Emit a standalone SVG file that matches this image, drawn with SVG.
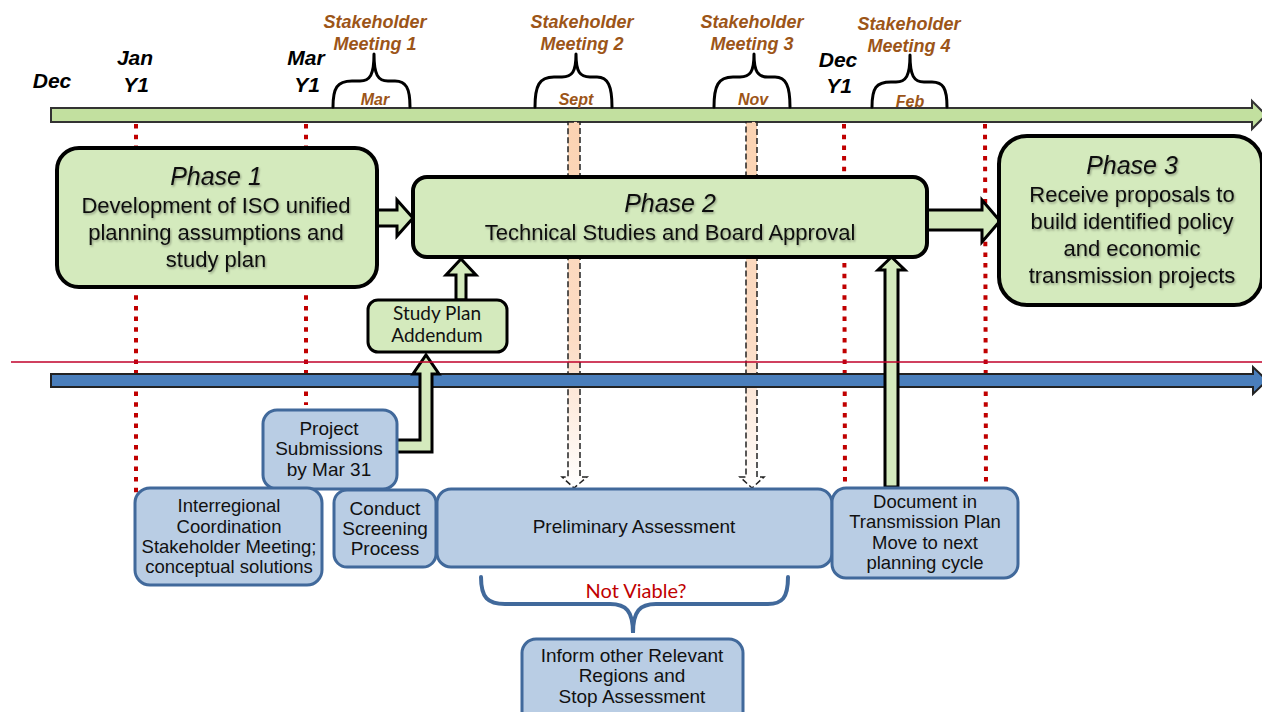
<svg xmlns="http://www.w3.org/2000/svg" width="1262" height="712" viewBox="0 0 1262 712">
<style>
.date{font-family:"Liberation Sans",Arial,sans-serif;font-weight:bold;font-style:italic;font-size:21px;fill:#000;text-anchor:middle}
.sh{font-family:"Liberation Sans",Arial,sans-serif;font-weight:bold;font-style:italic;font-size:18px;fill:#9c5518;text-anchor:middle}
.mon{font-family:"Liberation Sans",Arial,sans-serif;font-weight:bold;font-style:italic;font-size:16px;fill:#9c5518;text-anchor:middle}
.brace{fill:none;stroke:#000;stroke-width:3;stroke-linecap:round;stroke-linejoin:round}
.dot{fill:none;stroke:#c00000;stroke-width:4;stroke-dasharray:4.5 6.2}
.phase{fill:#d4eabd;stroke:#000;stroke-width:4}
.ptitle{font-family:"Liberation Sans",Arial,sans-serif;font-style:italic;font-size:25px;fill:#111;text-anchor:middle;filter:url(#sh)}
.ptext{font-family:"Liberation Sans",Arial,sans-serif;font-size:22px;fill:#111;text-anchor:middle;filter:url(#sh)}
.garrow{fill:#d4eabd;stroke:#000;stroke-width:3;stroke-linejoin:miter}
.blue{fill:#b9cde4;stroke:#41699b;stroke-width:3}
.btext{font-family:"Liberation Sans",Arial,sans-serif;font-size:19px;fill:#111;text-anchor:middle}
.btext2{font-family:"Liberation Sans",Arial,sans-serif;font-size:18.5px;fill:#111;text-anchor:middle}
.cal{font-family:Lato,"Liberation Sans",sans-serif;font-size:19px;fill:#111;text-anchor:middle}
.dash{fill:url(#peach);stroke:#222;stroke-width:1.5;stroke-dasharray:6 3}
</style>
<defs>
<linearGradient id="peach" gradientUnits="userSpaceOnUse" x1="0" y1="122" x2="0" y2="488">
<stop offset="0" stop-color="#fbd3b2"/>
<stop offset="0.6" stop-color="#fcdcc5"/>
<stop offset="1" stop-color="#ffffff"/>
</linearGradient>
<filter id="sh" x="-10%" y="-30%" width="120%" height="160%">
<feDropShadow dx="1" dy="1.5" stdDeviation="0.8" flood-color="#000" flood-opacity="0.35"/>
</filter>
</defs>
<rect width="1262" height="712" fill="#fff"/>

<!-- timeline labels -->
<g id="dates">
<text class="date" x="52" y="88">Dec</text>
<text class="date" x="135" y="65">Jan</text>
<text class="date" x="136" y="92">Y1</text>
<text class="date" x="306" y="65">Mar</text>
<text class="date" x="307" y="92">Y1</text>
<text class="date" x="838" y="67">Dec</text>
<text class="date" x="839" y="93">Y1</text>
</g>

<!-- top timeline -->
<g id="timeline-top">
<polygon points="51,108 1252,108 1252,101 1266,115 1252,129 1252,122 51,122" fill="#c2e09f" stroke="#333" stroke-width="2"/>
</g>

<g id="meetings">
<text class="sh" x="375" y="28">Stakeholder</text>
<text class="sh" x="375" y="50">Meeting 1</text>
<path class="brace" d="M333,107 C333,88 337,81 352,81 L360,81 C370,81 374,75 374,54 C374,75 378,81 388,81 L395,81 C406,81 410,88 410,107"/>
<text class="mon" x="375" y="105">Mar</text>

<text class="sh" x="582" y="28">Stakeholder</text>
<text class="sh" x="582" y="50">Meeting 2</text>
<path class="brace" d="M535,107 C535,86 539,77 554,77 L562,77 C572,77 576,72 576,54 C576,72 580,77 590,77 L597,77 C608,77 612,86 612,107"/>
<text class="mon" x="576" y="105">Sept</text>

<text class="sh" x="752" y="28">Stakeholder</text>
<text class="sh" x="752" y="50">Meeting 3</text>
<path class="brace" d="M714,107 C714,86 718,77 733,77 L740,77 C750,77 754,72 754,54 C754,72 758,77 768,77 L775,77 C786,77 790,86 790,107"/>
<text class="mon" x="753" y="105">Nov</text>

<text class="sh" x="909" y="30">Stakeholder</text>
<text class="sh" x="909" y="52">Meeting 4</text>
<path class="brace" d="M872,107 C872,88 876,82 891,82 L896,82 C906,82 910,76 910,55 C910,76 914,82 924,82 L932,82 C943,82 947,88 947,107"/>
<text class="mon" x="910" y="107">Feb</text>
</g>

<!-- dotted month markers -->
<g id="markers">
<line class="dot" x1="136" y1="124" x2="136" y2="505"/>
<line class="dot" x1="306" y1="124" x2="306" y2="405"/>
<line class="dot" x1="844" y1="124" x2="845" y2="488"/>
<line class="dot" x1="985" y1="124" x2="986" y2="488"/>
</g>

<g id="connectors">
<polygon class="dash" points="568,122 580,122 580,477 587,477 574,488 562,477 568,477"/>
<polygon class="dash" points="746,122 757,122 757,477 764,477 752,488 740,477 746,477"/>
<polygon class="garrow" points="377,210 397,210 397,200 413,218 397,236 397,226 377,226"/>
<polygon class="garrow" stroke-width="4" points="927,210 982,210 982,200 1000,221 982,242 982,230 927,230"/>
<polygon class="garrow" points="456,300 456,275 446,275 461,259 476,275 466,275 466,300"/>
</g>

<g id="phase1">
<rect class="phase" x="57" y="148" width="320" height="139" rx="22"/>
<text class="ptitle" x="216" y="185">Phase 1</text>
<text class="ptext" x="216" y="213">Development of ISO unified</text>
<text class="ptext" x="216" y="240">planning assumptions and</text>
<text class="ptext" x="216" y="267">study plan</text>
</g>

<g id="phase2">
<rect class="phase" x="413" y="177" width="514" height="80" rx="14"/>
<text class="ptitle" x="670" y="212">Phase 2</text>
<text class="ptext" x="670" y="240">Technical Studies and Board Approval</text>
</g>

<g id="phase3">
<rect class="phase" x="999" y="136" width="263" height="169" rx="28"/>
<text class="ptitle" x="1132" y="174">Phase 3</text>
<text class="ptext" x="1132" y="202">Receive proposals to</text>
<text class="ptext" x="1132" y="229">build identified policy</text>
<text class="ptext" x="1132" y="256">and economic</text>
<text class="ptext" x="1132" y="283">transmission projects</text>
</g>

<g id="study-plan-addendum">
<rect x="368" y="300" width="139" height="52" rx="10" fill="#d4eabd" stroke="#000" stroke-width="3"/>
<text class="cal" x="437" y="320">Study Plan</text>
<text class="cal" x="437" y="342">Addendum</text>
</g>

<!-- lower timeline -->
<g id="timeline-bottom">
<polygon points="51,374 1253,374 1253,367 1267,380.5 1253,394 1253,387 51,387" fill="#4a7ebb" stroke="#222" stroke-width="2"/>
</g>

<g id="connectors-lower">
<polygon class="garrow" stroke-width="2.5" points="396,440 420,440 420,374 413,374 426,355 439,374 432,374 432,452 396,452"/>
<polygon class="garrow" stroke-width="2" points="885,487 885,270 878,270 891.5,257 905,270 898,270 898,487"/>
</g>

<line x1="11" y1="362" x2="1262" y2="362" stroke="#c0002a" stroke-width="1.6"/>

<g id="project-submissions">
<rect class="blue" x="263" y="410" width="134" height="79" rx="14"/>
<text class="btext" x="329" y="435">Project</text>
<text class="btext" x="329" y="455">Submissions</text>
<text class="btext" x="329" y="476">by Mar 31</text>
</g>

<g id="interregional">
<rect class="blue" x="135" y="488" width="187" height="97" rx="15"/>
<text class="btext2" x="229" y="512">Interregional</text>
<text class="btext2" x="229" y="533">Coordination</text>
<text class="btext2" x="229" y="553">Stakeholder Meeting;</text>
<text class="btext2" x="229" y="573">conceptual solutions</text>
</g>

<g id="screening">
<rect class="blue" x="334" y="490" width="102" height="77" rx="13"/>
<text class="btext" x="385" y="515">Conduct</text>
<text class="btext" x="385" y="535">Screening</text>
<text class="btext" x="385" y="555">Process</text>
</g>

<g id="preliminary">
<rect class="blue" x="437" y="489" width="395" height="78" rx="14"/>
<text class="btext" x="634" y="533">Preliminary Assessment</text>
</g>

<g id="document">
<rect class="blue" x="832" y="488" width="186" height="90" rx="14"/>
<text class="btext2" x="925" y="508">Document in</text>
<text class="btext2" x="925" y="528">Transmission Plan</text>
<text class="btext2" x="925" y="549">Move to next</text>
<text class="btext2" x="925" y="569">planning cycle</text>
</g>

<g id="not-viable">
<path d="M481,577 C481,598 488,604 505,604 L610,604 C626,604 633,611 633,633 C633,611 640,604 656,604 L768,604 C782,604 788,598 788,577" fill="none" stroke="#41699b" stroke-width="4" stroke-linecap="round"/>
<text x="636" y="598" font-family="Lato,'Liberation Sans',sans-serif" font-size="20" fill="#c00000" text-anchor="middle">Not Viable?</text>
</g>

<g id="inform">
<rect class="blue" x="522" y="639" width="221" height="90" rx="14"/>
<text class="btext" x="632" y="662">Inform other Relevant</text>
<text class="btext" x="632" y="682">Regions and</text>
<text class="btext" x="632" y="703">Stop Assessment</text>
</g>
</svg>
